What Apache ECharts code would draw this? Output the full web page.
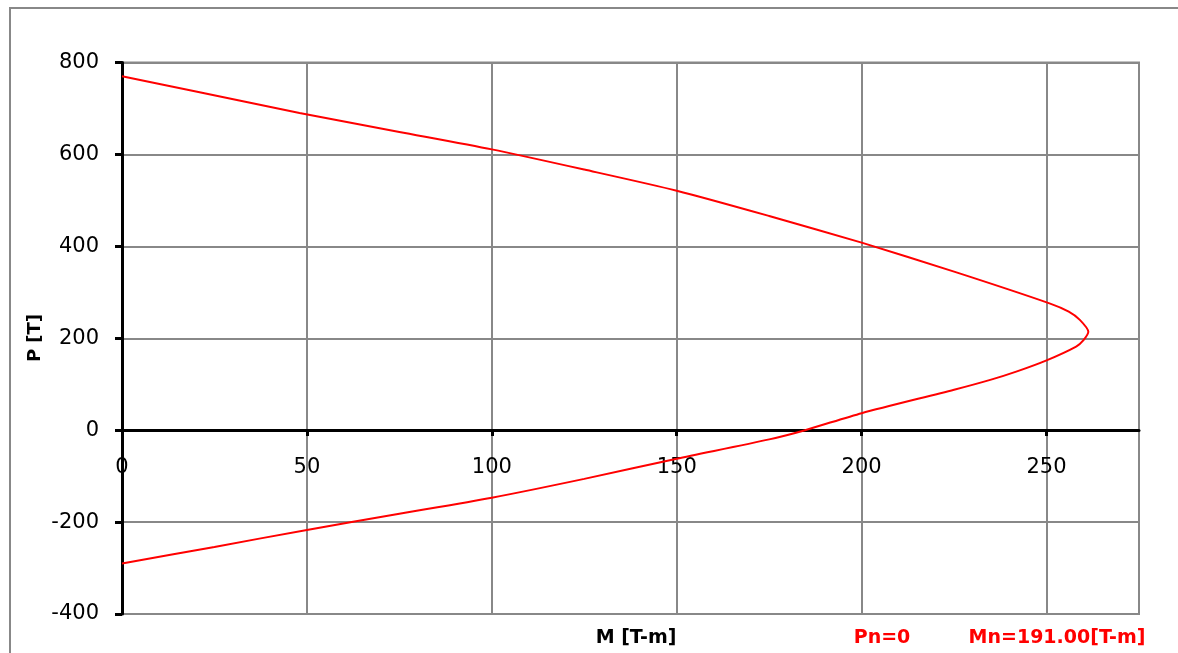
<!DOCTYPE html>
<html>
<head>
<meta charset="utf-8">
<script src="https://cdn.jsdelivr.net/npm/echarts@6/dist/echarts.min.js"></script>
<style>
html,body{margin:0;padding:0;background:#fff;}
#chart{width:1178px;height:653px;}
</style>
</head>
<body>
<div id="chart"></div>
<script>
// Interaction diagram: moment M [T-m] vs axial load P [T]
const M = [0, 20, 48, 75, 100, 125, 150, 175, 200, 225, 250.8, 256, 259, 261.3, 260, 258, 250, 242, 235, 225, 200, 184.7, 175, 150, 125, 100, 75, 50, 25, 0];
const P = [770, 737, 690, 649, 611, 567, 521, 466, 408, 345, 276, 258, 240, 214, 196, 182, 152, 128, 110, 88, 37, 0, -20, -62, -106, -147, -182, -217, -254, -290];
const xTicks = [0, 50, 100, 150, 200, 250];
const yTicks = [-400, -200, 0, 200, 400, 600, 800];
const xTitle = 'M [T-m]';
const yTitle = 'P [T]';
const noteP = 'Pn=0';
const noteM = 'Mn=191.00[T-m]';

const FONT = '"DejaVu Sans", sans-serif';
const chart = echarts.init(document.getElementById('chart'));
chart.setOption({
  animation: false,
  backgroundColor: '#fff',
  grid: {left: 122, top: 62.5, right: 39, bottom: 39, show: true, borderColor: '#888', borderWidth: 2},
  xAxis: {
    type: 'value', min: 0, max: 275, interval: 50,
    position: 'bottom', offset: -184,
    axisLine: {onZero: false, lineStyle: {color: '#000', width: 3}},
    axisTick: {show: true, length: 6, lineStyle: {color: '#000', width: 3}, customValues: xTicks},
    axisLabel: {color: '#000', fontSize: 21, fontFamily: 'DejaVu Sans', margin: 27, customValues: xTicks},
    splitLine: {show: true, lineStyle: {color: '#888', width: 2}}
  },
  yAxis: {
    type: 'value', min: -400, max: 800, interval: 200,
    axisLine: {onZero: false, lineStyle: {color: '#000', width: 3}},
    axisTick: {show: true, length: 7, lineStyle: {color: '#000', width: 3}},
    axisLabel: {color: '#000', fontSize: 21, fontFamily: 'DejaVu Sans', margin: 23},
    splitLine: {show: true, lineStyle: {color: '#888', width: 2}}
  },
  series: [{
    type: 'line',
    data: M.map((m, i) => [m, P[i]]),
    showSymbol: false,
    smooth: 0.25,
    lineStyle: {color: '#ff0000', width: 2},
    z: 5
  }],
  graphic: [
    {type: 'rect', shape: {x: 10, y: 8, width: 1200, height: 700}, style: {fill: 'none', stroke: '#888', lineWidth: 2}, z: -10, silent: true},
    {type: 'text', x: 35, y: 338, rotation: Math.PI / 2,
     style: {text: yTitle, font: 'bold 18px ' + FONT, fill: '#000', textAlign: 'center', textVerticalAlign: 'middle'}},
    {type: 'text', x: 636, y: 638,
     style: {text: xTitle, font: 'bold 19px ' + FONT, fill: '#000', textAlign: 'center', textVerticalAlign: 'middle'}},
    {type: 'text', x: 882, y: 638,
     style: {text: noteP, font: 'bold 19px ' + FONT, fill: '#ff0000', textAlign: 'center', textVerticalAlign: 'middle'}},
    {type: 'text', x: 1057, y: 638,
     style: {text: noteM, font: 'bold 19px ' + FONT, fill: '#ff0000', textAlign: 'center', textVerticalAlign: 'middle'}}
  ]
});
</script>
</body>
</html>
